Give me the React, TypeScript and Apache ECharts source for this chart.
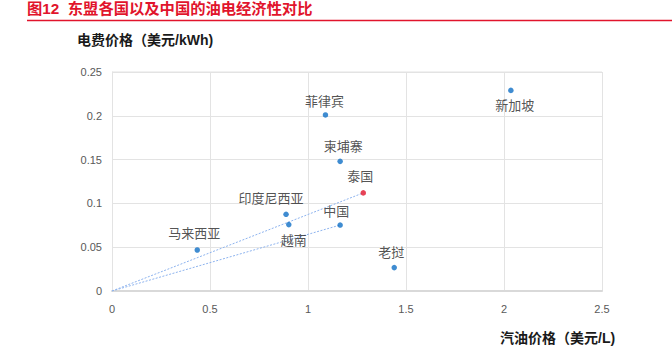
import React, { useEffect, useRef } from "react";
import * as echarts from "echarts";

const countries = ["新加坡", "菲律宾", "柬埔寨", "泰国", "印度尼西亚", "越南", "中国", "马来西亚", "老挝"];
const gasolinePrice = [2.035, 1.089, 1.164, 1.282, 0.888, 0.902, 1.164, 0.435, 1.44];
const electricityPrice = [0.229, 0.201, 0.148, 0.112, 0.0876, 0.0758, 0.0753, 0.0468, 0.0267];
const xTicks = [0, 0.5, 1, 1.5, 2, 2.5];
const yTicks = [0, 0.05, 0.1, 0.15, 0.2, 0.25];
const trendTargets = ["泰国", "中国"];

const labelPlacement: Record<string, { pos: string; off: [number, number] }> = {
  新加坡: { pos: "bottom", off: [4, 1] },
  菲律宾: { pos: "top", off: [-1, 1] },
  柬埔寨: { pos: "top", off: [3, -1] },
  泰国: { pos: "top", off: [-3, -2] },
  印度尼西亚: { pos: "top", off: [-15, -2] },
  越南: { pos: "bottom", off: [5, 2] },
  中国: { pos: "top", off: [-4, 1] },
  马来西亚: { pos: "top", off: [-3, -2] },
  老挝: { pos: "top", off: [-3, -1] },
};

const FONT = "'Liberation Sans', 'Noto Sans CJK SC', sans-serif";

export default function App() {
  const ref = useRef<HTMLDivElement>(null);
  useEffect(() => {
    if (!ref.current) return;
    const chart = echarts.init(ref.current, undefined, { renderer: "svg" });
    const points = countries.map((name, i) => {
      const lp = labelPlacement[name];
      return {
        name,
        value: [gasolinePrice[i], electricityPrice[i]],
        itemStyle: { color: name === "泰国" ? "#e1142c" : "#0f6fc6" },
        label: { position: lp.pos, offset: lp.off },
      };
    });
    const lines = trendTargets.map((t) => {
      const i = countries.indexOf(t);
      return {
        type: "line",
        data: [
          [0, 0],
          [gasolinePrice[i], electricityPrice[i]],
        ],
        symbol: "none",
        silent: true,
        lineStyle: { color: "#8db3ee", width: 1, type: [2, 1.5] },
        z: 1,
      };
    });
    chart.setOption({
      animation: false,
      grid: { left: 112, right: 70, top: 72, bottom: 60 },
      xAxis: {
        type: "value",
        min: xTicks[0],
        max: xTicks[xTicks.length - 1],
        interval: 0.5,
        axisLine: { show: true, lineStyle: { color: "#d9d9d9", width: 2 } },
        axisTick: { show: false },
        splitLine: { show: true, lineStyle: { color: "#e3e3e3", width: 1 } },
        axisLabel: { color: "#595959", fontSize: 11, fontFamily: FONT, margin: 12 },
      },
      yAxis: {
        type: "value",
        min: yTicks[0],
        max: yTicks[yTicks.length - 1],
        interval: 0.05,
        axisLine: { show: true, lineStyle: { color: "#e3e3e3", width: 1 } },
        axisTick: { show: false },
        splitLine: { show: true, lineStyle: { color: "#e3e3e3", width: 1 } },
        axisLabel: { color: "#595959", fontSize: 11, fontFamily: FONT, margin: 10 },
      },
      graphic: [
        {
          type: "text",
          left: 27,
          top: 1,
          style: {
            text: "图12  东盟各国以及中国的油电经济性对比",
            fill: "#e1142c",
            font: `bold 15.3px ${FONT}`,
          },
        },
        {
          type: "line",
          shape: { x1: 27, y1: 20.5, x2: 672, y2: 20.5 },
          style: { stroke: "#e1142c", lineWidth: 1.5 },
        },
        {
          type: "text",
          left: 77,
          top: 33,
          style: {
            text: "电费价格（美元/kWh)",
            fill: "#1a1a1a",
            font: `bold 14px ${FONT}`,
          },
        },
        {
          type: "text",
          left: 500,
          top: 331,
          style: {
            text: "汽油价格（美元/L)",
            fill: "#1a1a1a",
            font: `bold 14px ${FONT}`,
          },
        },
        {
          type: "line",
          shape: { x1: 112, y1: 72, x2: 602, y2: 72 },
          style: { stroke: "#e3e3e3", lineWidth: 1 },
        },
      ],
      series: [
        ...lines,
        {
          type: "scatter",
          data: points,
          symbolSize: 5.5,
          z: 3,
          label: {
            show: true,
            formatter: "{b}",
            color: "#262626",
            fontSize: 13,
            fontFamily: FONT,
            distance: 5,
          },
        },
      ],
    });
    return () => chart.dispose();
  }, []);
  return (
    <div
      ref={ref}
      style={{ position: "fixed", left: 0, top: 0, width: 672, height: 351, background: "#fff" }}
    />
  );
}
